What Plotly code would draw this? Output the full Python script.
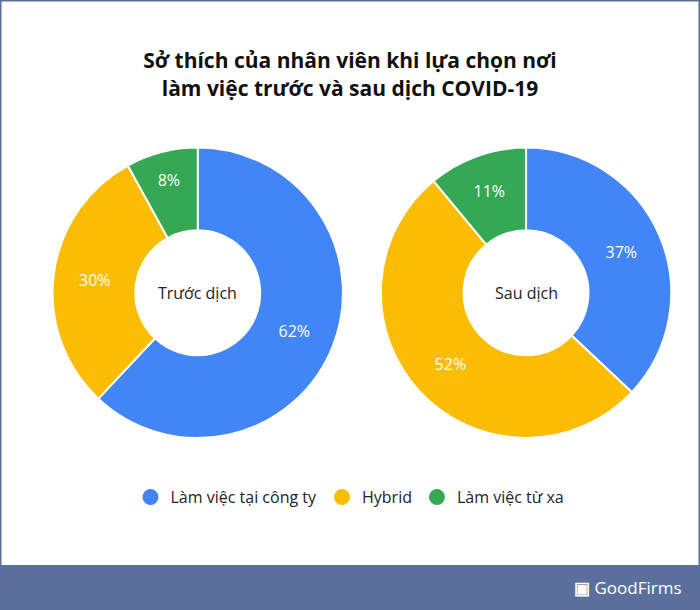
import plotly.graph_objects as go

labels = ['Làm việc tại công ty', 'Hybrid', 'Làm việc từ xa']
truoc = [62, 30, 8]
sau = [37, 52, 11]
colors = ['#4285f4', '#fbbc04', '#34a853']
band = '#5b6f9c'

fig = go.Figure()

for vals, dom, name in [(truoc, [0.075, 0.49], 'Trước dịch'), (sau, [0.544, 0.959], 'Sau dịch')]:
    fig.add_trace(go.Pie(
        labels=labels, values=vals, sort=False, direction='clockwise', rotation=0,
        hole=0.43, domain=dict(x=dom, y=[0.282, 0.758]),
        marker=dict(colors=colors, line=dict(color='white', width=2)),
        texttemplate='%{value}%', textposition='inside',
        insidetextfont=dict(color='white', size=16, family='Open Sans'),
        showlegend=False, hoverinfo='label+value', name=name,
    ))
    fig.add_annotation(x=sum(dom) / 2, y=0.52, xref='paper', yref='paper', text=name,
                       xanchor='center', yanchor='middle',
                       showarrow=False, font=dict(size=16, color='#222', family='Open Sans'))

# legend with round markers
for lab, c in zip(labels, colors):
    fig.add_trace(go.Scatter(x=[None], y=[None], mode='markers', name=lab,
                             marker=dict(color=c, size=16, symbol='circle')))

fig.update_layout(
    autosize=True, margin=dict(l=0, r=0, t=0, b=0),
    paper_bgcolor='white', plot_bgcolor='white',
    font=dict(family='Open Sans', color='#222'),
    title=dict(text='<b>Sở thích của nhân viên khi lựa chọn nơi<br>làm việc trước và sau dịch COVID-19</b>',
               x=0.5, xanchor='center', y=0.888, yanchor='middle', font=dict(size=21, color='#111')),
    xaxis=dict(visible=False), yaxis=dict(visible=False),
    legend=dict(orientation='h', x=0.5, xanchor='center', y=0.185, yanchor='middle',
                font=dict(size=16), itemwidth=30, tracegroupgap=0),
    shapes=[
        dict(type='rect', xref='paper', yref='paper', x0=0, x1=1, y0=0, y1=45 / 610,
             fillcolor=band, line=dict(width=0), layer='below'),
        dict(type='rect', xref='paper', yref='paper', x0=0, x1=1, y0=0, y1=1,
             fillcolor='rgba(0,0,0,0)', line=dict(color=band, width=3)),
    ],
)
fig.add_annotation(x=0.975, y=23 / 610, xref='paper', yref='paper', xanchor='right', yanchor='middle',
                   text='<b>▣</b> GoodFirms', showarrow=False, font=dict(size=17, color='white', family='Open Sans'))

fig.write_html('out.html', default_width='100vw', default_height='100vh',
               config=dict(displayModeBar=False),
               post_script="document.body.style.margin='0';document.body.style.overflow='hidden';")
